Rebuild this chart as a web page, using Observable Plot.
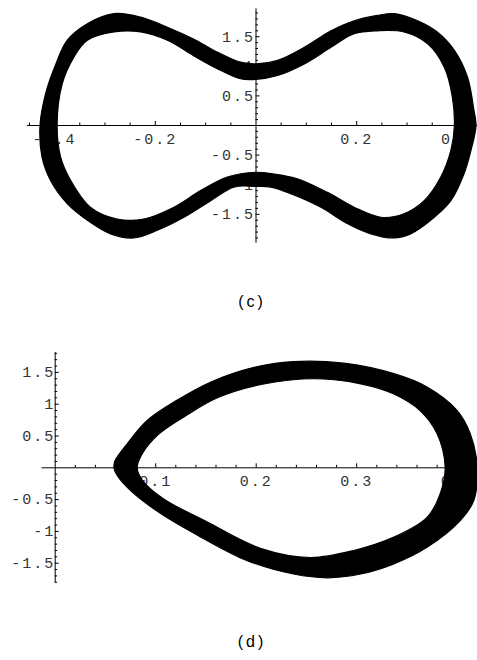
<!DOCTYPE html>
<html><head><meta charset="utf-8">
<script src="https://cdn.jsdelivr.net/npm/d3@7"></script>
<script src="https://cdn.jsdelivr.net/npm/@observablehq/plot@0.6"></script>
<style>
html,body{margin:0;padding:0;background:#fff;}
#root{position:relative;width:477px;height:660px;overflow:hidden;background:#fff;}
.panel{position:absolute;left:0;}
.panel svg text{letter-spacing:2px;}
.panel svg g[aria-label="line"] path{fill-rule:evenodd;}
.cap{position:absolute;width:60px;text-align:center;font-family:"Liberation Sans",Arial,sans-serif;font-size:16px;letter-spacing:3px;color:#000;line-height:16px;}
</style></head><body><div id="root"></div>
<script>
// ---------- Panel (c) data ----------
const cOuter = [
  [0,1.04],[0.043,1.10],[0.096,1.32],[0.149,1.60],[0.195,1.77],[0.241,1.86],[0.274,1.89],
  [0.321,1.77],[0.36,1.58],[0.394,1.27],[0.42,0.82],[0.433,0.25],[0.437,0],[0.427,-0.42],
  [0.413,-0.82],[0.387,-1.27],[0.347,-1.60],[0.307,-1.83],[0.274,-1.90],[0.228,-1.83],
  [0.182,-1.66],[0.129,-1.38],[0.069,-1.15],[0.029,-1.04],[0,-1.03],[-0.044,-1.04],
  [-0.090,-1.27],[-0.143,-1.55],[-0.196,-1.77],[-0.243,-1.90],[-0.289,-1.83],[-0.335,-1.60],
  [-0.375,-1.32],[-0.408,-0.93],[-0.425,-0.535],[-0.429,0],[-0.418,0.535],[-0.40,0.985],
  [-0.375,1.44],[-0.335,1.72],[-0.282,1.89],[-0.229,1.83],[-0.176,1.66],[-0.124,1.46],
  [-0.077,1.24],[-0.031,1.07]
];
const cInner = [
  [0,0.78],[0.043,0.845],[0.096,1.04],[0.149,1.32],[0.195,1.55],[0.241,1.60],[0.294,1.58],
  [0.341,1.38],[0.374,0.985],[0.39,0.48],[0.394,0],[0.387,-0.42],[0.367,-0.87],[0.334,-1.27],
  [0.294,-1.49],[0.248,-1.55],[0.195,-1.38],[0.142,-1.13],[0.082,-0.90],[0.036,-0.82],
  [0,-0.79],[-0.057,-0.87],[-0.110,-1.10],[-0.163,-1.38],[-0.223,-1.58],[-0.276,-1.58],
  [-0.329,-1.38],[-0.368,-0.93],[-0.388,-0.535],[-0.395,0],[-0.385,0.70],[-0.362,1.15],
  [-0.335,1.44],[-0.282,1.58],[-0.229,1.58],[-0.176,1.44],[-0.124,1.18],[-0.077,0.96],
  [-0.031,0.79]
];
const cXMajor = [-0.4, -0.2, 0.2, 0.4];
const cXLabels = ["-0.4", "-0.2", "0.2", "0.4"];
const cXMinor = [-0.45,-0.35,-0.3,-0.25,-0.15,-0.1,-0.05,0.05,0.1,0.15,0.25,0.3,0.35];
const cYMajor = [-1.5, -1, -0.5, 0.5, 1, 1.5];
const cYLabels = ["-1.5", "-1", "-0.5", "0.5", "1", "1.5"];
const cYMinor = [-1.9,-1.8,-1.7,-1.6,-1.4,-1.3,-1.2,-1.1,-0.9,-0.8,-0.7,-0.6,-0.4,-0.3,-0.2,-0.1,
                 0.1,0.2,0.3,0.4,0.6,0.7,0.8,0.9,1.1,1.2,1.3,1.4,1.6,1.7,1.8,1.9];
const cAxisX = [-0.454, 0.44];
const cAxisY = [-1.99, 1.97];

// ---------- Panel (d) data ----------
const dOuter = [
  [0.0585,0],[0.0595,0.11],[0.0716,0.377],[0.0915,0.744],[0.121,1.06],[0.155,1.35],[0.198,1.58],
  [0.237,1.67],[0.287,1.645],[0.337,1.48],[0.37,1.27],[0.40,0.90],[0.413,0.535],[0.42,0.01],
  [0.4165,-0.514],[0.403,-0.83],[0.37,-1.25],[0.337,-1.51],[0.304,-1.67],[0.271,-1.73],
  [0.237,-1.67],[0.191,-1.46],[0.145,-1.09],[0.105,-0.72],[0.075,-0.357],[0.0617,-0.12]
];
const dInner = [
  [0.0816,0.0],[0.0863,0.214],[0.103,0.53],[0.130,0.82],[0.162,1.105],[0.205,1.31],[0.257,1.40],
  [0.304,1.32],[0.337,1.16],[0.363,0.90],[0.38,0.535],[0.388,0.01],[0.383,-0.41],[0.37,-0.78],
  [0.337,-1.09],[0.297,-1.30],[0.254,-1.41],[0.205,-1.27],[0.150,-0.84],[0.108,-0.49],
  [0.087,-0.20]
];
const dXMajor = [0.1, 0.2, 0.3, 0.4];
const dXLabels = ["0.1", "0.2", "0.3", "0.4"];
const dXMinor = [0.02,0.04,0.06,0.08,0.12,0.14,0.16,0.18,0.22,0.24,0.26,0.28,0.32,0.34,0.36,0.38];
const dYMajor = [-1.5, -1, -0.5, 0.5, 1, 1.5];
const dYLabels = ["-1.5", "-1", "-0.5", "0.5", "1", "1.5"];
const dYMinor = [-1.8,-1.7,-1.6,-1.4,-1.3,-1.2,-1.1,-0.9,-0.8,-0.7,-0.6,-0.4,-0.3,-0.2,-0.1,
                 0.1,0.2,0.3,0.4,0.6,0.7,0.8,0.9,1.1,1.2,1.3,1.4,1.6,1.7,1.8];
const dAxisX = [-0.013, 0.425];
const dAxisY = [-1.81, 1.81];

const captions = ["(c)", "(d)"];

function panel(cfg) {
  const band = [...cfg.outer, [NaN, NaN], ...cfg.inner.slice().reverse()];
  const labelFont = {fontFamily: "'Liberation Mono', 'Courier New', monospace", fontSize: 15, fill: "#333"};
  return Plot.plot({
    width: 477, height: cfg.height, margin: 0,
    x: {domain: cfg.xDomain, axis: null},
    y: {domain: cfg.yDomain, axis: null},
    style: {background: "transparent", overflow: "visible"},
    marks: [
      Plot.ruleY([0], {x1: () => cfg.axisX[0], x2: () => cfg.axisX[1], stroke: "black", strokeWidth: 1}),
      Plot.ruleX([0], {y1: () => cfg.axisY[0], y2: () => cfg.axisY[1], stroke: "black", strokeWidth: 1}),
      Plot.ruleX(cfg.xMajor, {x: d => d, y1: () => 0, y2: () => 0, insetTop: -4, stroke: "black", strokeWidth: 1}),
      Plot.ruleX(cfg.xMinor, {x: d => d, y1: () => 0, y2: () => 0, insetTop: -2.5, stroke: "black", strokeWidth: 1}),
      Plot.ruleY(cfg.yMajor, {y: d => d, x1: () => 0, x2: () => 0, insetRight: -4, stroke: "black", strokeWidth: 1}),
      Plot.ruleY(cfg.yMinor, {y: d => d, x1: () => 0, x2: () => 0, insetRight: -2.5, stroke: "black", strokeWidth: 1}),
      Plot.text(cfg.xMajor, {x: d => d, y: () => 0, text: (d, i) => cfg.xLabels[i], dy: cfg.xLabelDy, ...labelFont}),
      Plot.text(cfg.yMajor, {x: () => 0, y: d => d, text: (d, i) => cfg.yLabels[i], textAnchor: "end", dx: cfg.yLabelDx, ...labelFont}),
      Plot.line(band, {x: d => d[0], y: d => d[1], fill: "black", stroke: "black", strokeWidth: 1.2,
        curve: "catmull-rom-closed"})
    ]
  });
}

const root = document.getElementById("root");

const c = panel({
  height: 250, xDomain: [-0.50745, 0.43992], yDomain: [-2.1115, 2.1115],
  outer: cOuter, inner: cInner, xMajor: cXMajor, xLabels: cXLabels, xMinor: cXMinor,
  yMajor: cYMajor, yLabels: cYLabels, yMinor: cYMinor, axisX: cAxisX, axisY: cAxisY,
  xLabelDy: 14, yLabelDx: -1
});
const cWrap = document.createElement("div");
cWrap.className = "panel"; cWrap.style.top = "0px";
cWrap.appendChild(c); root.appendChild(cWrap);

const d = panel({
  height: 260, xDomain: [-0.05443, 0.42020], yDomain: [-2.0865, 2.0016],
  outer: dOuter, inner: dInner, xMajor: dXMajor, xLabels: dXLabels, xMinor: dXMinor,
  yMajor: dYMajor, yLabels: dYLabels, yMinor: dYMinor, axisX: dAxisX, axisY: dAxisY,
  xLabelDy: 13, yLabelDx: 0
});
const dWrap = document.createElement("div");
dWrap.className = "panel"; dWrap.style.top = "340px";
dWrap.appendChild(d); root.appendChild(dWrap);

const capTops = [294, 634];
captions.forEach((t, i) => {
  const el = document.createElement("div");
  el.className = "cap";
  el.textContent = t;
  el.style.left = "222px";
  el.style.top = capTops[i] + "px";
  root.appendChild(el);
});
</script>
</body></html>
